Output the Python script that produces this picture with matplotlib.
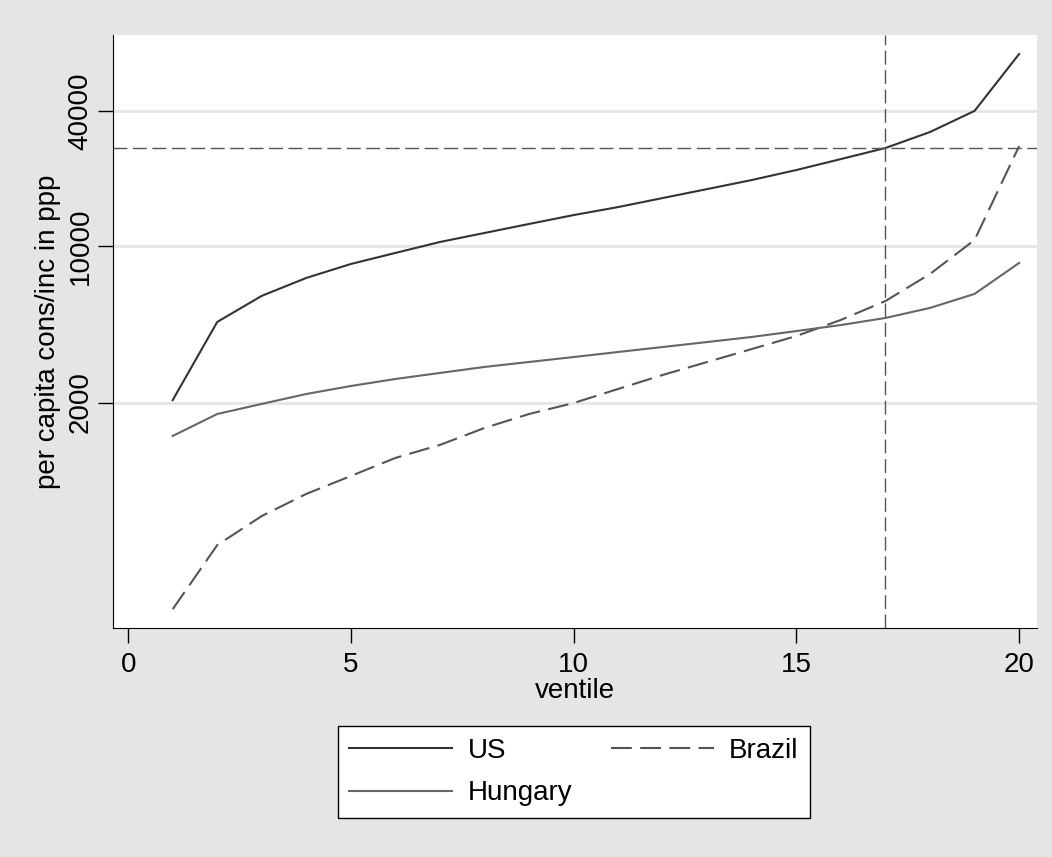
import numpy as np
import matplotlib.pyplot as plt

ventile = list(range(1, 21))
us = [2050, 4580, 5990, 7200, 8310, 9310, 10420, 11430, 12540, 13740,
      14920, 16370, 17950, 19700, 21830, 24440, 27380, 32270, 40100, 71960]
brazil = [239, 462, 623, 782, 940, 1132, 1294, 1540, 1778, 1990,
          2300, 2656, 3035, 3467, 3963, 4677, 5680, 7500, 10640, 27920]
hungary = [1419, 1778, 1972, 2184, 2371, 2548, 2711, 2884, 3035, 3193,
           3363, 3540, 3726, 3925, 4170, 4437, 4772, 5290, 6110, 8400]
ref_ventile = 17
yticks = [2000, 10000, 40000]

plt.rcParams['font.family'] = ['Liberation Sans', 'DejaVu Sans']
plt.rcParams['font.size'] = 20

fig = plt.figure(figsize=(10.52, 8.57), dpi=100, facecolor='#e5e5e5')
ax = fig.add_axes([0.1074, 0.2672, 0.8783, 0.692])
ax.set_facecolor('white')

ax.set_yscale('log')
ax.set_xlim(-0.34, 20.4)
ax.set_ylim(197, 87500)

for t in yticks:
    ax.axhline(t, color='#e6e6e6', lw=2, zorder=0)

l_us, = ax.plot(ventile, us, color='#333333', lw=1.5, label='US')
l_br, = ax.plot(ventile, brazil, color='#555555', lw=1.5, dashes=(10, 4), label='Brazil')
l_hu, = ax.plot(ventile, hungary, color='#666666', lw=1.5, label='Hungary')

# reference lines at the 17th ventile of the US
ref_val = us[ventile.index(ref_ventile)]
ax.axvline(ref_ventile, color='#555555', lw=1, dashes=(10, 4))
ax.axhline(ref_val, color='#555555', lw=1, dashes=(10, 4))

ax.set_xticks([0, 5, 10, 15, 20])
ax.set_yticks(yticks)
ax.set_yticklabels([str(t) for t in yticks], rotation=90, va='center')
ax.yaxis.set_minor_locator(plt.NullLocator())
ax.tick_params(direction='out', length=11, width=1, color='black')
ax.tick_params(axis='x', pad=6)
ax.tick_params(axis='y', pad=3)
ax.spines['top'].set_visible(False)
ax.spines['right'].set_visible(False)

ax.set_xlabel('ventile', labelpad=0)
ax.set_ylabel('per capita cons/inc in ppp', labelpad=5)

leg = fig.legend(handles=[l_us, l_hu, l_br], ncol=2, loc='center',
                 bbox_to_anchor=(0.5456, 0.0992), handlelength=3.7,
                 handletextpad=0.55, columnspacing=1.4, fancybox=False,
                 edgecolor='black', framealpha=1, borderpad=0.42,
                 labelspacing=0.6, borderaxespad=0)
leg.get_frame().set_linewidth(1)

fig.savefig('out.png', dpi=100, facecolor=fig.get_facecolor())
